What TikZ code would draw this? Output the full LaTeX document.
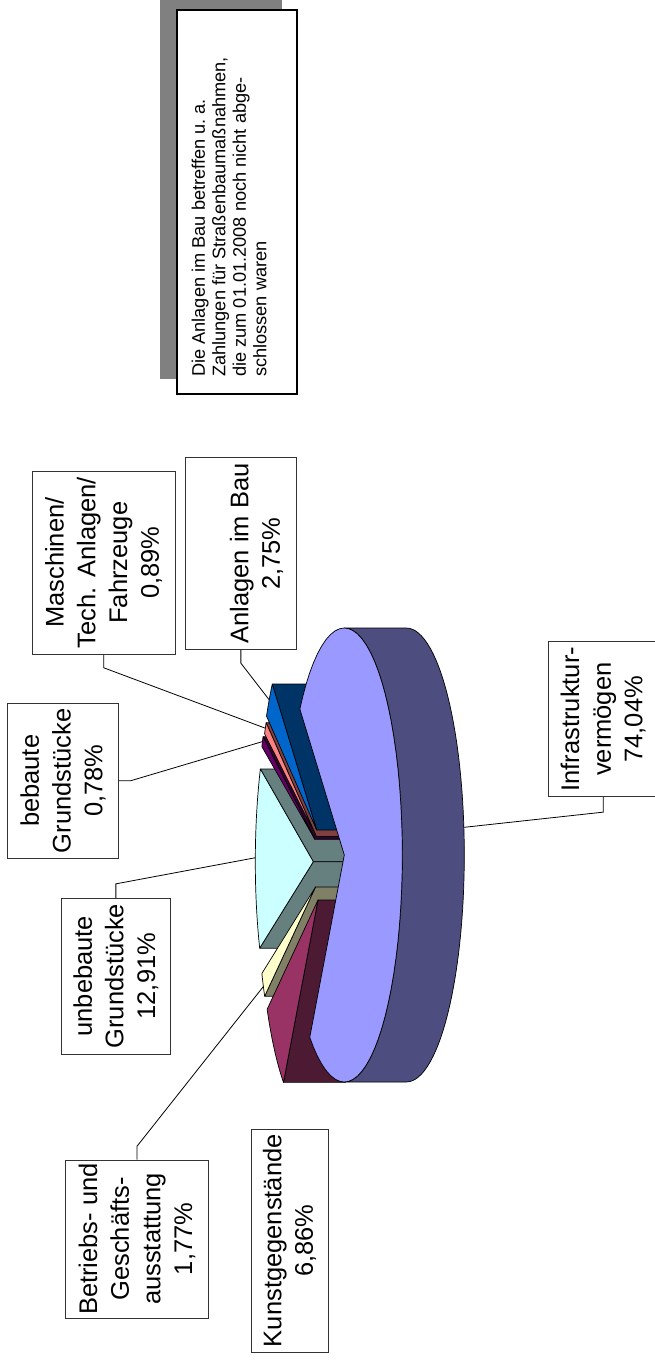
\documentclass[tikz,border=0pt]{standalone}
\usepackage{fontspec}
\setmainfont{Liberation Sans}

\definecolor{infratop}{HTML}{9999FF}
\definecolor{infraside}{HTML}{4D4D80}
\definecolor{anltop}{HTML}{0066CC}
\definecolor{anlwall}{HTML}{003366}
\definecolor{maschtop}{HTML}{FF8080}
\definecolor{maschwall}{HTML}{804040}
\definecolor{bebtop}{HTML}{660066}
\definecolor{bebwall}{HTML}{330033}
\definecolor{unbtop}{HTML}{CCFFFF}
\definecolor{unbwall}{HTML}{668080}
\definecolor{betrtop}{HTML}{FFFFCC}
\definecolor{betrwall}{HTML}{808066}
\definecolor{kunsttop}{HTML}{993366}
\definecolor{kunstwall}{HTML}{4D1A33}
\definecolor{shadowgray}{HTML}{808080}

% top face of a slice: apex x, apex y, start angle, end angle, colour
\newcommand\slicetop[5]{%
  \filldraw[pieedge, fill=#5] (#1,#2) -- plot[domain=#3:#4] ({#1+58*cos(\x)},{#2-227*sin(\x)}) -- cycle;}
% flat cut wall of a slice along one radius: apex x, apex y, angle, colour
\newcommand\slicewall[4]{%
  \filldraw[pieedge, fill=#4] (#1,#2) -- ({#1+58*cos(#3)},{#2-227*sin(#3)}) -- ++(62,0) -- ({#1+62},#2) -- cycle;}

\begin{document}
\begin{tikzpicture}[x=1pt, y=-1pt,
  pieedge/.style={draw=black, line width=0.7pt, line join=round, samples=60},
  lblbox/.style={draw=black!80, line width=0.9pt, fill=white, rotate=90, align=center,
                 inner sep=0pt, font=\fontsize{25.5}{31.7}\selectfont},
  lbltext/.style={rotate=90, align=center, inner sep=0pt, font=\fontsize{25.5}{31.7}\selectfont},
  notebox/.style={draw=black, line width=1.5pt, fill=white, rotate=90, inner sep=0pt},
  notetext/.style={rotate=90, align=left, inner sep=0pt, font=\fontsize{18.2}{20.5}\selectfont},
  leader/.style={draw=black, line width=0.8pt}]

\useasboundingbox (0,0) rectangle (654,1362);
\fill[white] (0,0) rectangle (654,1362);

% explanatory note with its shadow
\fill[shadowgray] (160,-6) rectangle (282,379);
\node[notebox, minimum width=384pt, minimum height=120pt] (note) at (237,202) {};
\node[notetext, anchor=north west] (notetxt) at (191.5,377)
  {Die Anlagen im Bau betreffen u.\ a.\\Zahlungen für Straßenbaumaßnahmen,\\die zum 01.01.2008 noch nicht abge-\\schlossen waren};

% ---- pie: exploded small slices, back to front ----
% unbebaute Grundstuecke
\slicewall{313.3}{861.7}{155.912}{unbwall}
\slicewall{313.3}{861.7}{202.388}{unbwall}
\slicetop{313.3}{861.7}{155.912}{202.388}{unbtop}
% bebaute Grundstuecke
\slicewall{314.8}{839.3}{153.104}{bebwall}
\slicetop{314.8}{839.3}{153.104}{155.912}{bebtop}
% Maschinen / Fahrzeuge
\slicewall{316.3}{836.5}{149.9}{maschwall}
\slicetop{316.3}{836.5}{149.9}{153.104}{maschtop}
% Anlagen im Bau
\slicewall{316.7}{830}{140}{anlwall}
\slicetop{316.7}{830}{140}{149.9}{anltop}
% Betriebs- und Geschaeftsausstattung
\slicewall{315.5}{887}{208.76}{betrwall}
\slicetop{315.5}{887}{202.388}{208.76}{betrtop}
% Kunstgegenstaende
\slicewall{318}{900}{233.456}{kunstwall}
\slicetop{318}{900}{208.76}{233.456}{kunsttop}
% Infrastrukturvermoegen: curved side, then top face
\filldraw[pieedge, fill=infraside]
  plot[domain=270:450] ({344.3+58*cos(\x)},{855-227*sin(\x)})
  -- plot[domain=450:270] ({406.3+58*cos(\x)},{855-227*sin(\x)}) -- cycle;
\slicetop{344.3}{855}{233.456}{500}{infratop}

% leader targets on the slices
\coordinate (pAnl)   at ({316.7+58*cos(145)},{830-227*sin(145)});
\coordinate (pMasch) at ({316.3+58*cos(151.5)},{836.5-227*sin(151.5)});
\coordinate (pBeb)   at ({314.8+58*cos(154.5)},{839.3-227*sin(154.5)});
\coordinate (pUnb)   at ({313.3+58*cos(179)},{861.7-227*sin(179)});
\coordinate (pBetr)  at ({315.5+58*cos(206)},{887-227*sin(206)});
\coordinate (pInfra) at ({406.3+58*cos(7)},{855-227*sin(7)});

% ---- data labels ----
\node[lblbox, minimum width=183.3pt, minimum height=142.7pt] (masch) at (103.65,562.65)
  {Maschinen/\\Tech. Anlagen/\\Fahrzeuge\\0,89\%};
\node[lblbox, minimum width=191.6pt, minimum height=110.3pt] (anl) at (240.85,553.5) {};
\node[lbltext] (anltxt) at (256.5,553.5) {Anlagen im Bau\\2,75\%};
\node[lblbox, minimum width=155pt, minimum height=110.6pt] (beb) at (63,780.8)
  {bebaute\\Grundstücke\\0,78\%};
\node[lblbox, minimum width=155.7pt, minimum height=109.7pt] (unb) at (115.85,976.15)
  {unbebaute\\Grundstücke\\12,91\%};
\node[lblbox, minimum width=158pt, minimum height=142.6pt] (betr) at (137,1239)
  {Betriebs- und\\Geschäfts-\\ausstattung\\1,77\%};
\node[lblbox, minimum width=222.7pt, minimum height=77pt] (kunst) at (289.5,1240.7)
  {Kunstgegenstände\\6,86\%};
\node[lblbox, minimum width=155pt, minimum height=109.7pt] (infra) at (603.15,719.2)
  {Infrastruktur-\\vermögen\\74,04\%};

% ---- leader lines ----
\draw[leader] (anl.west) -- ++(0,13.4) -- (pAnl);
\draw[leader] (masch.west) -- ++(0,13) -- (pMasch);
\draw[leader] (beb.south) -- ++(11.7,0) -- (pBeb);
\draw[leader] (unb.east) -- ++(0,-14) -- (pUnb);
\draw[leader] (betr.east) -- ++(0,-13.3) -- (pBetr);
\draw[leader] (infra.west) -- ++(0,15) -- (pInfra);
\end{tikzpicture}
\end{document}
